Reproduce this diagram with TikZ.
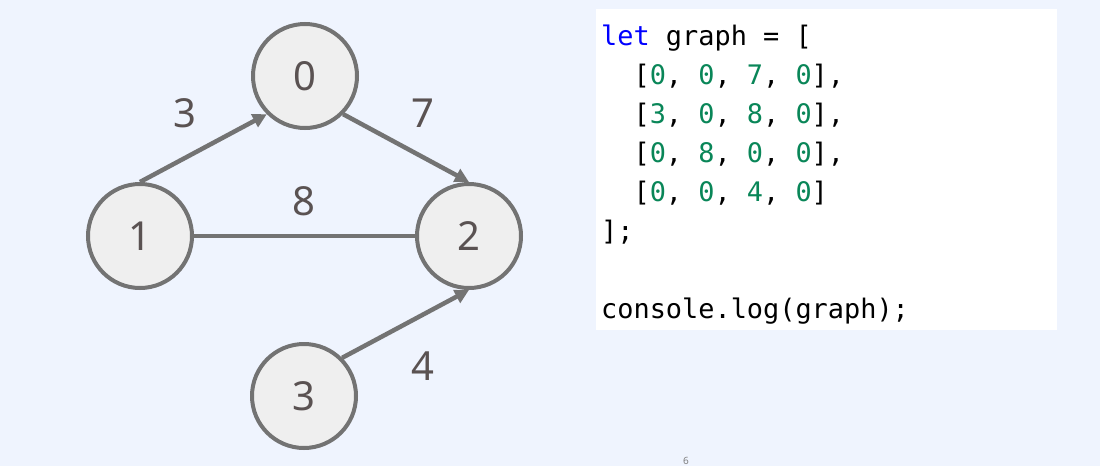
\documentclass[tikz,border=0pt]{standalone}
\usepackage{fontspec}
\setmainfont{Noto Sans}
\newfontfamily\codefont{DejaVu Sans Mono}
\usetikzlibrary{arrows.meta}
\definecolor{bgc}{HTML}{EFF4FE}
\definecolor{nodefill}{HTML}{EFEFEF}
\definecolor{nodeline}{HTML}{737373}
\definecolor{labc}{HTML}{5A5252}
\definecolor{kw}{HTML}{0000FF}
\definecolor{num}{HTML}{098658}
\begin{document}
\begin{tikzpicture}[x=1pt,y=-1pt,
  vert/.style={circle,draw=nodeline,fill=nodefill,line width=4pt,minimum size=104pt,inner sep=0pt,
    font=\fontsize{40}{40}\selectfont,text=labc},
  edge/.style={draw=nodeline,line width=4.5pt},
  arr/.style={edge,-{Triangle[length=14pt,width=14pt]}},
  wlab/.style={font=\fontsize{40}{40}\selectfont,text=labc},
  codeline/.style={anchor=base west,inner sep=0pt,font=\codefont\fontsize{26.9}{30}\selectfont}
]
\fill[bgc] (0,0) rectangle (1100,466);
\useasboundingbox (0,0) rectangle (1100,466);
% graph
\node[vert] (n0) at (305,76) {0};
\node[vert] (n1) at (140,236) {1};
\node[vert] (n2) at (469,236) {2};
\node[vert] (n3) at (304,396) {3};
\draw[arr] (n1.north) -- (n0.225);
\draw[arr] (n0.-45) -- (n2.north);
\draw[edge] (n1.east) -- (n2.west);
\draw[arr] (n3.45) -- (n2.south);
\node[wlab] (w3) at (185,113) {3};
\node[wlab] (w7) at (423,113) {7};
\node[wlab] (w8) at (304,201) {8};
\node[wlab] (w4) at (423,366) {4};
% code box
\fill[white] (596,9) rectangle (1057,330);
\newcommand\nm[1]{\textcolor{num}{#1}}
\node[codeline] (c1) at (601,45) {\textcolor{kw}{let} graph = [};
\node[codeline] (c2) at (601,84) {~~[\nm{0}, \nm{0}, \nm{7}, \nm{0}],};
\node[codeline] (c3) at (601,123) {~~[\nm{3}, \nm{0}, \nm{8}, \nm{0}],};
\node[codeline] (c4) at (601,162) {~~[\nm{0}, \nm{8}, \nm{0}, \nm{0}],};
\node[codeline] (c5) at (601,201) {~~[\nm{0}, \nm{0}, \nm{4}, \nm{0}]};
\node[codeline] (c6) at (601,240) {];};
\node[codeline] (c8) at (601,318) {console.log(graph);};
% page number
\node[font=\fontsize{10}{10}\selectfont,text=gray,anchor=base,inner sep=0pt] (pg) at (686,464) {6};
\end{tikzpicture}
\end{document}
